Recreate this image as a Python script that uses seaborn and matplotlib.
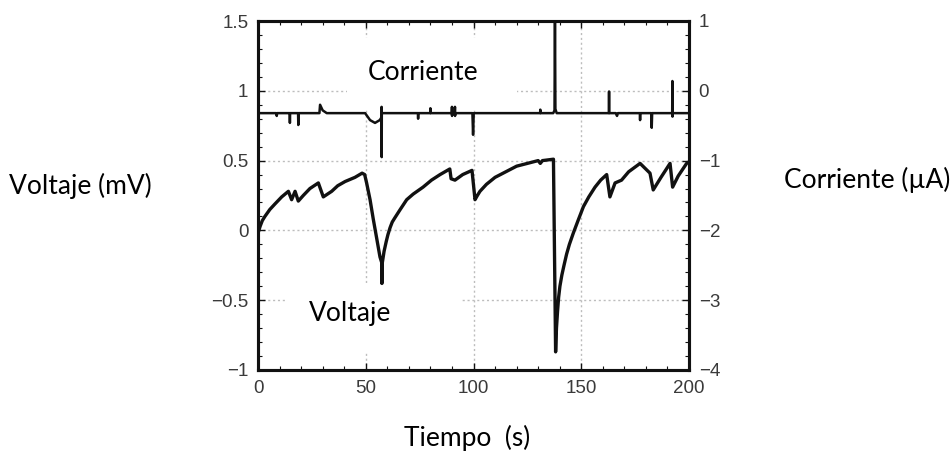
import matplotlib
matplotlib.use("Agg")
import matplotlib.pyplot as plt
from matplotlib.patches import Rectangle
from matplotlib.ticker import FixedLocator, FixedFormatter, MultipleLocator
import numpy as np
import pandas as pd
import seaborn as sns

# Voltage trace (mV) against time (s)
volt_t = [0, 1, 2, 3.2, 5.5, 7.9, 11, 14.1, 15.6, 17.2, 18.7, 21, 24.1, 28, 30.3, 34.2,
          37, 40.4, 45, 48.3, 49.5, 50.4, 52, 53.5, 55, 56.6, 57.4, 57.5, 57.7, 58.5,
          59.5, 60.3, 61.3, 62.3, 63.5, 66, 69, 72, 76.6, 80.5, 84.5, 89, 89.6, 91.4,
          95, 99.3, 100.7, 101.8, 103, 106, 110, 115, 120, 125, 130, 131, 132, 137.1,
          138.1, 138.5, 139, 139.5, 140.1, 141, 142, 143.2, 144.5, 146.3, 148.5, 151,
          153.5, 156.4, 159, 161.8, 163.3, 165.7, 168.7, 172, 177.3, 181.9, 183.4, 187,
          191.2, 192.4, 195, 198.9, 200]
volt_v = [-0.02, 0.03, 0.07, 0.10, 0.15, 0.19, 0.24, 0.28, 0.22, 0.28, 0.21, 0.25, 0.30,
          0.34, 0.24, 0.28, 0.32, 0.35, 0.38, 0.41, 0.40, 0.34, 0.22, 0.08, -0.05, -0.19,
          -0.23, -0.38, -0.23, -0.15, -0.08, -0.03, 0.02, 0.06, 0.09, 0.15, 0.22, 0.26,
          0.31, 0.36, 0.40, 0.44, 0.37, 0.36, 0.40, 0.43, 0.22, 0.25, 0.28, 0.33, 0.38,
          0.42, 0.46, 0.48, 0.50, 0.48, 0.50, 0.51, -0.87, -0.70, -0.58, -0.48, -0.40,
          -0.32, -0.25, -0.17, -0.10, -0.02, 0.07, 0.17, 0.24, 0.31, 0.36, 0.40, 0.24,
          0.34, 0.36, 0.42, 0.48, 0.41, 0.29, 0.38, 0.48, 0.31, 0.39, 0.48, 0.49]

# Current trace (uA) against time (s)
curr_t = [0, 8.5, 8.7, 8.9, 14.7, 14.8, 14.9, 18.6, 18.7, 18.8, 28.5, 28.8, 30, 31.9,
          49.7, 52, 54.3, 56.5, 57.3, 57.35, 57.4, 57.45, 57.5, 58, 74.2, 74.3, 74.4,
          79.9, 80, 80.1, 89.9, 90, 90.05, 90.1, 91.3, 91.4, 91.45, 91.5, 99.5, 99.8,
          100.1, 130.9, 131, 131.1, 137.0, 137.6, 137.8, 138.0, 138.6, 162.8, 162.9,
          163.0, 166, 166.6, 167, 177.2, 177.3, 177.4, 182.5, 182.7, 182.9, 192.2,
          192.3, 192.35, 192.4, 200]
curr_i = [-0.32, -0.32, -0.36, -0.32, -0.32, -0.46, -0.32, -0.32, -0.49, -0.32, -0.32,
          -0.20, -0.28, -0.32, -0.32, -0.42, -0.46, -0.42, -0.38, -0.23, -0.95, -0.32,
          -0.32, -0.32, -0.32, -0.40, -0.32, -0.32, -0.25, -0.32, -0.32, -0.23, -0.36,
          -0.32, -0.32, -0.23, -0.36, -0.32, -0.32, -0.63, -0.32, -0.32, -0.27, -0.32,
          -0.32, -0.28, 1.20, -0.26, -0.32, -0.32, -0.01, -0.32, -0.32, -0.36, -0.32,
          -0.32, -0.42, -0.32, -0.32, -0.53, -0.32, -0.32, 0.14, -0.37, -0.32, -0.32]

x_ticks = [0, 50, 100, 150, 200]
x_labels = ["0", "50", "100", "150", "200"]
v_ticks = [-1, -0.5, 0, 0.5, 1, 1.5]
v_labels = ["\u22121", "\u22120.5", "0", "0.5", "1", "1.5"]
i_ticks = [-4, -3, -2, -1, 0, 1]
i_labels = ["\u22124", "\u22123", "\u22122", "\u22121", "0", "1"]

volt = pd.DataFrame({"t": volt_t, "v": volt_v})
curr = pd.DataFrame({"t": curr_t, "i": curr_i})

sns.set_style("white")
plt.rcParams["font.family"] = ["Liberation Sans Narrow", "Liberation Sans", "DejaVu Sans"]

W, H = 952, 454
fig = plt.figure(figsize=(W / 100, H / 100), dpi=100)
fig.patch.set_facecolor("white")

def fx(px):
    return px / W

def fy(py):
    return 1 - py / H

ax = fig.add_axes([fx(258), fy(370), fx(689) - fx(258), fy(21) - fy(370)])
ax2 = ax.twinx()

sns.lineplot(data=volt, x="t", y="v", ax=ax, color="#111111", lw=2.4,
             estimator=None, sort=False, zorder=3)
sns.lineplot(data=curr, x="t", y="i", ax=ax2, color="#111111", lw=1.8,
             estimator=None, sort=False, zorder=3)

ax.set_xlim(0, 200)
ax.set_ylim(-1, 1.5)
ax2.set_ylim(-4, 1)

ax.xaxis.set_major_locator(FixedLocator(x_ticks))
ax.xaxis.set_major_formatter(FixedFormatter(x_labels))
ax.xaxis.set_minor_locator(MultipleLocator(10))
ax.yaxis.set_major_locator(FixedLocator(v_ticks))
ax.yaxis.set_major_formatter(FixedFormatter(v_labels))
ax.yaxis.set_minor_locator(MultipleLocator(0.1))
ax2.yaxis.set_major_locator(FixedLocator(i_ticks))
ax2.yaxis.set_major_formatter(FixedFormatter(i_labels))
ax2.yaxis.set_minor_locator(MultipleLocator(0.2))

for a in (ax, ax2):
    a.set_xlabel("")
    a.set_ylabel("")
    for s in a.spines.values():
        s.set_linewidth(2.2)
        s.set_color("#111111")

tick_kw = dict(direction="in", colors="#111111", labelcolor="#3a3a3a", labelsize=13.5, pad=7)
ax.tick_params(axis="x", which="both", top=True, bottom=True, **tick_kw)
ax.tick_params(axis="y", which="both", left=True, right=False, **tick_kw)
ax2.tick_params(axis="y", which="both", right=True, left=False, **tick_kw)
for a in (ax, ax2):
    a.tick_params(which="major", length=5, width=1)
    a.tick_params(which="minor", length=3, width=0.8)

ax.set_axisbelow(True)
ax.grid(True, which="major", color="#bdbdbd", lw=1.0, linestyle=(0, (1.5, 2)))
ax2.grid(False)

# white panels behind the in-plot captions
for (x0, y0, x1, y1) in [(347, 38, 517, 108), (287, 283, 460, 352)]:
    ax.add_patch(Rectangle((fx(x0), fy(y1)), fx(x1) - fx(x0), fy(y0) - fy(y1),
                           transform=fig.transFigure, facecolor="white",
                           edgecolor="none", zorder=1, clip_on=False))

lab_kw = dict(family=["Lato", "DejaVu Sans"], fontsize=19, color="black",
              ha="center", va="center")
fig.text(fx(423), fy(72), "Corriente", **lab_kw)
fig.text(fx(350), fy(313), "Voltaje", **lab_kw)
fig.text(fx(80), fy(186), "Voltaje (mV)", **lab_kw)
fig.text(fx(867), fy(180), "Corriente (\u00b5A)", **lab_kw)
fig.text(fx(467), fy(438), "Tiempo  (s)", **lab_kw)

fig.savefig("out.png", dpi=100, facecolor="white")
